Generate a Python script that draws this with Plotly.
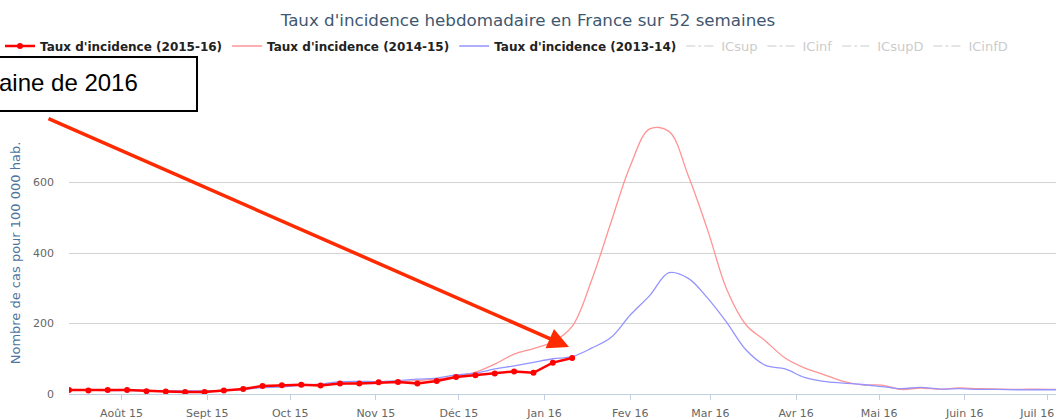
import plotly.graph_objects as go
import pandas as pd

# ---- data ----
weeks = pd.date_range("2015-07-13", periods=52, freq="7D")

taux_2015_16 = [11, 10, 11, 11, 8, 7, 6, 6, 10, 14, 23, 25, 26, 24, 30, 30, 33, 34,
                30, 37, 48, 53, 58, 64, 60, 89, 102]
taux_2014_15 = [13, 12, 12, 11, 10, 9, 8, 8, 10, 13, 20, 23, 25, 27, 29, 31, 33, 35,
                38, 42, 50, 62, 85, 113, 129, 148, 192, 322, 486, 647, 752, 745, 619,
                465, 295, 195, 150, 102, 74, 55, 36, 26, 25, 13, 17, 14, 17, 15, 14, 13,
                14, 13]
taux_2013_14 = [12, 11, 10, 10, 9, 9, 9, 9, 10, 13, 18, 20, 25, 28, 35, 36, 35, 38,
                42, 45, 54, 59, 71, 80, 90, 100, 106, 130, 160, 224, 279, 344, 328, 272,
                202, 124, 81, 71, 47, 36, 31, 27, 21, 15, 19, 14, 15, 13, 13, 12, 12, 12]

hidden_series = ["ICsup", "ICinf", "ICsupD", "ICinfD"]

month_ticks = pd.date_range("2015-08-01", periods=12, freq="MS")
month_labels = ["Août 15", "Sept 15", "Oct 15", "Nov 15", "Déc 15", "Jan 16",
                "Fev 16", "Mar 16", "Avr 16", "Mai 16", "Juin 16",
                "Juil 16" + "\u00a0" * 6]

y_ticks = [0, 200, 400, 600, 800]
y_labels = ["0", "200", "400", "600", ""]

title_text = "Taux d'incidence hebdomadaire en France sur 52 semaines"
y_title = "Nombre de cas pour 100 000 hab."
note_text = "aine de 2016"

# ---- figure ----
W, H = 1056, 419
L, R, T, B = 69, 0, 112, 25
PW, PH = W - L - R, H - T - B

def px_x(p):
    return (p - L) / PW

def px_y(p):
    return (H - B - p) / PH

fig = go.Figure()

fig.add_trace(go.Scatter(
    x=weeks[:len(taux_2014_15)], y=taux_2014_15, name="<b>Taux d'incidence (2014-15)</b>",
    mode="lines", line=dict(color="#ff9494", width=1.3, shape="spline", smoothing=1),
    legendrank=2))
fig.add_trace(go.Scatter(
    x=weeks[:len(taux_2013_14)], y=taux_2013_14, name="<b>Taux d'incidence (2013-14)</b>",
    mode="lines", line=dict(color="#9494ff", width=1.3, shape="spline", smoothing=1),
    legendrank=3))
fig.add_trace(go.Scatter(
    x=weeks[:len(taux_2015_16)], y=taux_2015_16, name="<b>Taux d'incidence (2015-16)</b>",
    mode="lines+markers", line=dict(color="#ff0000", width=2.5),
    marker=dict(color="#ff0000", size=6), legendrank=1))

for i, nm in enumerate(hidden_series):
    fig.add_trace(go.Scatter(
        x=[None], y=[None],
        name=f"<span style='color:#999999;font-size:13px'>{nm}</span>",
        mode="lines", line=dict(color="#999999", width=1, dash="dashdot"),
        visible="legendonly", legendrank=4 + i))

font_main = "DejaVu Sans, Verdana, sans-serif"

fig.update_layout(
    width=W, height=H,
    margin=dict(l=L, r=R, t=T, b=B, pad=0, autoexpand=False),
    paper_bgcolor="white", plot_bgcolor="white",
    font=dict(family=font_main, size=11, color="#666666"),
    title=dict(text=title_text, x=0.5, xanchor="center", xref="container",
               y=1 - 20 / H, yanchor="middle", yref="container",
               font=dict(family=font_main, size=16.7, color="#3e576f")),
    legend=dict(orientation="h", x=px_x(0), xanchor="left", xref="paper",
                y=px_y(46), yanchor="middle", yref="paper",
                font=dict(family=font_main, size=12, color="#222222"),
                bgcolor="rgba(0,0,0,0)", itemclick=False, itemdoubleclick=False,
                traceorder="normal"),
    showlegend=True,
    xaxis=dict(
        range=[weeks[0], weeks[-1]], type="date", automargin=False,
        tickvals=month_ticks, ticktext=month_labels,
        showgrid=False, zeroline=False,
        showline=True, linecolor="#c0d0e0", linewidth=1,
        ticks="outside", ticklen=5, tickcolor="#c0d0e0", tickwidth=1,
        tickfont=dict(family=font_main, size=11, color="#666666"),
        ticklabelstandoff=4, ticklabeloverflow="allow",
    ),
    yaxis=dict(
        range=[0, 800], tickvals=y_ticks, ticktext=y_labels, automargin=False,
        showgrid=True, gridcolor="#d3d3d3", gridwidth=1,
        zeroline=False, showline=False, ticks="",
        tickfont=dict(family=font_main, size=11, color="#666666"),
        ticklabelstandoff=14,
        title=dict(text=y_title, standoff=9,
                   font=dict(family=font_main, size=13, color="#4d759e")),
    ),
)

# overlay box with text (cropped in the reference screenshot)
fig.add_shape(type="rect", xref="paper", yref="paper",
              x0=px_x(-40), x1=px_x(197), y0=px_y(111), y1=px_y(57),
              line=dict(color="#000000", width=2), fillcolor="white", layer="above")
fig.add_annotation(xref="paper", yref="paper", x=px_x(-3), y=px_y(83),
                   xanchor="left", yanchor="middle", showarrow=False,
                   text=note_text,
                   font=dict(family="Liberation Sans, Arial, sans-serif", size=24,
                             color="#000000"))
# red arrow
hx, hy = 569, 347
tx, ty = 47, 118
fig.add_annotation(xref="paper", yref="paper", x=px_x(hx), y=px_y(hy),
                   ax=tx - hx, ay=ty - hy, axref="pixel", ayref="pixel",
                   text="", showarrow=True, arrowhead=2, arrowsize=1.2,
                   arrowwidth=3.5, arrowcolor="#ff2a00")

fig.write_html("out.html", config={"displayModeBar": False},
               post_script="document.body.style.margin='0';")
